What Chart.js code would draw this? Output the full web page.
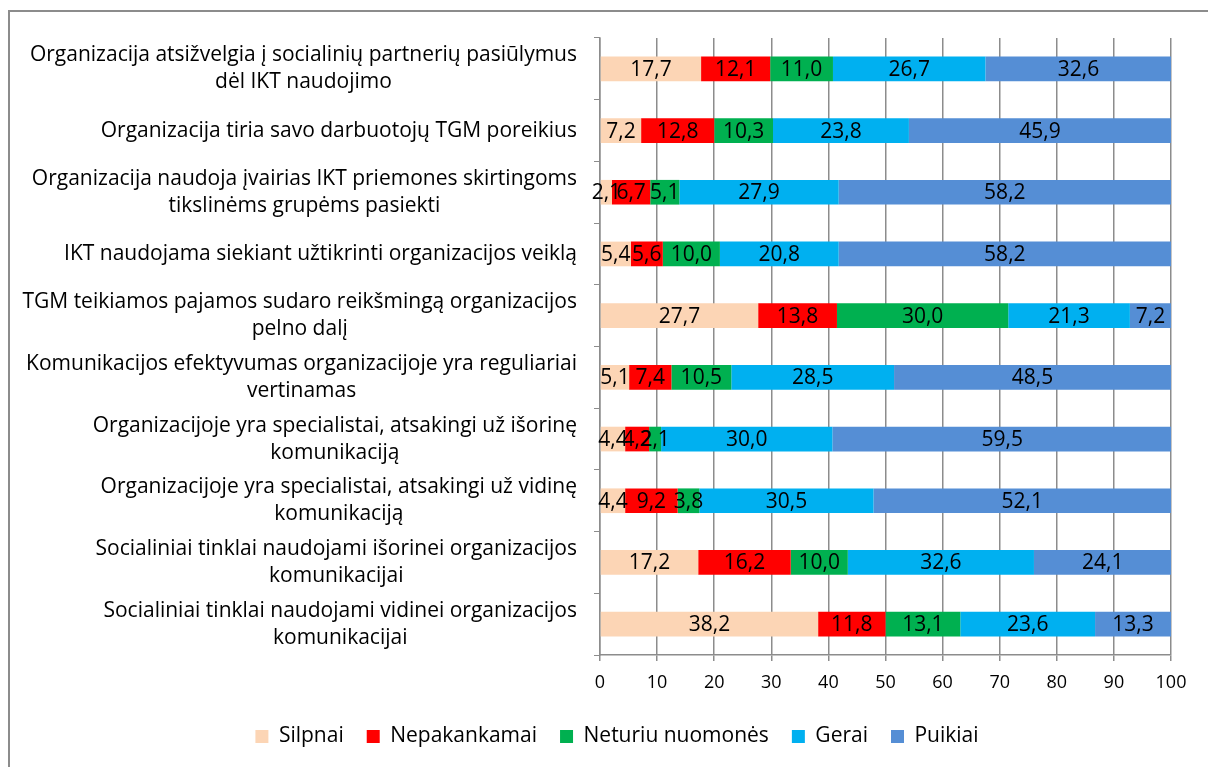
<!DOCTYPE html>
<html>
<head>
<meta charset="utf-8">
<script src="https://cdn.jsdelivr.net/npm/chart.js@4/dist/chart.umd.min.js"></script>
<style>
  html, body { margin: 0; padding: 0; background: #fff; }
  #wrap { position: relative; width: 1208px; height: 767px; overflow: hidden; }
  #frame { position: absolute; left: 8px; top: 10px; width: 1300px; height: 900px;
           border-left: 2px solid #8c8c8c; border-top: 2px solid #8c8c8c; }
  canvas { position: absolute; left: 0; top: 0; }
</style>
</head>
<body>
<div id="wrap">
  <div id="frame"></div>
  <canvas id="chart" width="1208" height="767"></canvas>
</div>
<script>
// kategorijos (eilutės)
const categories = [
  ['Organizacija atsižvelgia į socialinių partnerių pasiūlymus', 'dėl IKT naudojimo'],
  ['Organizacija tiria savo darbuotojų TGM poreikius'],
  ['Organizacija naudoja įvairias IKT priemones skirtingoms', 'tikslinėms grupėms pasiekti'],
  ['IKT naudojama siekiant užtikrinti organizacijos veiklą'],
  ['TGM teikiamos pajamos sudaro reikšmingą organizacijos', 'pelno dalį'],
  ['Komunikacijos efektyvumas organizacijoje yra reguliariai', 'vertinamas'],
  ['Organizacijoje yra specialistai, atsakingi už išorinę', 'komunikaciją'],
  ['Organizacijoje yra specialistai, atsakingi už vidinę', 'komunikaciją'],
  ['Socialiniai tinklai naudojami išorinei organizacijos', 'komunikacijai'],
  ['Socialiniai tinklai naudojami vidinei organizacijos', 'komunikacijai']
];

// serijos
const silpnai      = [17.7, 7.2, 2.1, 5.4, 27.7, 5.1, 4.4, 4.4, 17.2, 38.2];
const nepakankamai = [12.1, 12.8, 6.7, 5.6, 13.8, 7.4, 4.2, 9.2, 16.2, 11.8];
const neturiu      = [11.0, 10.3, 5.1, 10.0, 30.0, 10.5, 2.1, 3.8, 10.0, 13.1];
const gerai        = [26.7, 23.8, 27.9, 20.8, 21.3, 28.5, 30.0, 30.5, 32.6, 23.6];
const puikiai      = [32.6, 45.9, 58.2, 58.2, 7.2, 48.5, 59.5, 52.1, 24.1, 13.3];

const xTicks = [0, 10, 20, 30, 40, 50, 60, 70, 80, 90, 100];

const FONT = "'Open Sans', sans-serif";

// reikšmių etiketės segmentų viduryje
const valueLabels = {
  id: 'valueLabels',
  afterDatasetsDraw(chart) {
    const ctx = chart.ctx;
    ctx.save();
    ctx.font = '21px ' + FONT;
    ctx.fillStyle = '#000';
    ctx.textAlign = 'center';
    ctx.textBaseline = 'middle';
    chart.data.datasets.forEach((ds, di) => {
      chart.getDatasetMeta(di).data.forEach((bar, i) => {
        const cx = (bar.x + bar.base) / 2;
        ctx.fillText(ds.data[i].toFixed(1).replace('.', ','), cx, bar.y + 1);
      });
    });
    ctx.restore();
  }
};

// kategorijų pavadinimai: blokas lygiuotas dešinėn, eilutės centruotos
const categoryLabels = {
  id: 'categoryLabels',
  afterDraw(chart) {
    const ctx = chart.ctx;
    const y = chart.scales.y;
    const right = 577;
    const lh = 27;
    ctx.save();
    ctx.font = '21px ' + FONT;
    ctx.fillStyle = '#000';
    ctx.textAlign = 'center';
    ctx.textBaseline = 'middle';
    categories.forEach((lines, i) => {
      const w = Math.max(...lines.map(l => ctx.measureText(l).width));
      const cx = right - w / 2;
      const cy = y.getPixelForValue(i);
      const top = cy - (lines.length - 1) * lh / 2;
      lines.forEach((l, k) => ctx.fillText(l, cx, top + k * lh));
    });
    ctx.restore();
  }
};

const mk = (label, data, color) => ({
  label, data, backgroundColor: color, borderWidth: 0,
  barPercentage: 0.4, categoryPercentage: 1
});

new Chart(document.getElementById('chart'), {
  type: 'bar',
  data: {
    labels: categories.map((c, i) => i),
    datasets: [
      mk('Silpnai', silpnai, '#fcd5b5'),
      mk('Nepakankamai', nepakankamai, '#ff0000'),
      mk('Neturiu nuomonės', neturiu, '#00b050'),
      mk('Gerai', gerai, '#00b0f0'),
      mk('Puikiai', puikiai, '#558ed5')
    ]
  },
  options: {
    indexAxis: 'y',
    responsive: false,
    animation: false,
    layout: { padding: { left: 63, right: 37, top: 38, bottom: 10 } },
    scales: {
      x: {
        stacked: true,
        min: 0, max: 100,
        afterBuildTicks: s => { s.ticks = xTicks.map(v => ({ value: v })); },
        afterFit: s => { s.height = 48; },
        grid: { color: '#8c8c8c', lineWidth: 1.5, drawTicks: true, tickLength: 6, tickColor: '#8c8c8c' },
        border: { color: '#8c8c8c', width: 1.5 },
        ticks: { color: '#000', font: { family: FONT, size: 18 }, padding: 11 }
      },
      y: {
        stacked: true,
        afterFit: s => { s.width = 537; },
        grid: { drawOnChartArea: false, drawTicks: true, tickLength: 6, color: '#8c8c8c', offset: true },
        border: { color: '#8c8c8c', width: 1.5 },
        ticks: { display: false }
      }
    },
    plugins: {
      tooltip: { enabled: false },
      legend: {
        position: 'bottom',
        labels: {
          color: '#000',
          font: { family: FONT, size: 21 },
          boxWidth: 13, boxHeight: 13,
          padding: 23
        }
      }
    }
  },
  plugins: [valueLabels, categoryLabels]
});
</script>
</body>
</html>
